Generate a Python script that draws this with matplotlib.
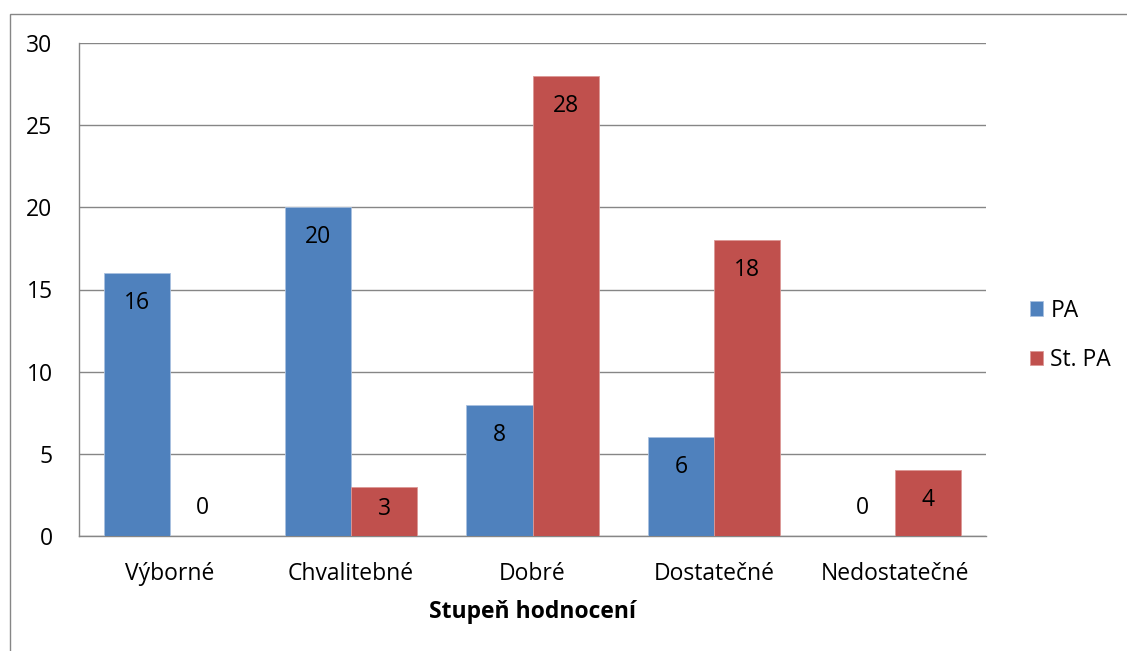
import numpy as np
import matplotlib
matplotlib.use("Agg")
import matplotlib.pyplot as plt
from matplotlib.patches import Rectangle

categories = ["Výborné", "Chvalitebné", "Dobré", "Dostatečné", "Nedostatečné"]
pa = [16, 20, 8, 6, 0]
st_pa = [0, 3, 28, 18, 4]
series_names = ["PA", "St. PA"]
colors = ["#4F81BD", "#C0504D"]
y_ticks = [0, 5, 10, 15, 20, 25, 30]

plt.rcParams["font.family"] = ["Open Sans", "DejaVu Sans"]
FS = 16.5

fig = plt.figure(figsize=(11.27, 6.51), dpi=100)
ax = fig.add_axes([79 / 1127, 1 - 536 / 651, (986 - 79) / 1127, (536 - 43) / 651])

# outer chart frame (only left and top edges fall inside the image)
frame_top = 1 - 13.5 / 651
fig.patches.append(Rectangle((9.5 / 1127, -0.2), 1.2, frame_top + 0.2,
                             transform=fig.transFigure, fill=False,
                             edgecolor="#868686", linewidth=1.0))

x = np.arange(len(categories))
w = 0.364
bars_pa = ax.bar(x - w / 2, pa, w, color=colors[0], edgecolor="#a9c1e0",
                 linewidth=0.6, label=series_names[0], zorder=3)
bars_st = ax.bar(x + w / 2, st_pa, w, color=colors[1], edgecolor="#dc9896",
                 linewidth=0.6, label=series_names[1], zorder=3)

ax.set_ylim(0, 30)
ax.set_xlim(-0.5, len(categories) - 0.5)
ax.set_yticks(y_ticks)
ax.set_xticks(x)
ax.set_xticklabels(categories)
ax.tick_params(axis="both", length=0, labelsize=FS)
ax.tick_params(axis="y", pad=19)
ax.tick_params(axis="x", pad=19)
ax.yaxis.grid(True, color="#868686", linewidth=1.0, zorder=0)
ax.set_axisbelow(True)

for side in ["top", "right"]:
    ax.spines[side].set_visible(False)
for side in ["left", "bottom"]:
    ax.spines[side].set_color("#868686")
    ax.spines[side].set_linewidth(1.0)

# value labels inside the bar ends; zero values sit just above the baseline
px_per_unit = (536 - 43) / 30
for bars, vals in [(bars_pa, pa), (bars_st, st_pa)]:
    for b, v in zip(bars, vals):
        cx = b.get_x() + b.get_width() / 2
        if v > 0:
            off = -min(30, v * px_per_unit * 0.45)
        else:
            off = 28
        ax.annotate(str(v), (cx, v), xytext=(0, off), textcoords="offset pixels",
                    ha="center", va="center", fontsize=FS, color="black", zorder=4)

ax.set_xlabel("Stupeň hodnocení", fontsize=FS, fontweight="bold", labelpad=10)

leg = ax.legend(loc="center left", bbox_to_anchor=(1.038, 0.407), frameon=False,
                fontsize=FS, handlelength=0.6, handleheight=0.6,
                handletextpad=0.3, labelspacing=1.1, borderaxespad=0)

fig.savefig("out.png", dpi=100)
